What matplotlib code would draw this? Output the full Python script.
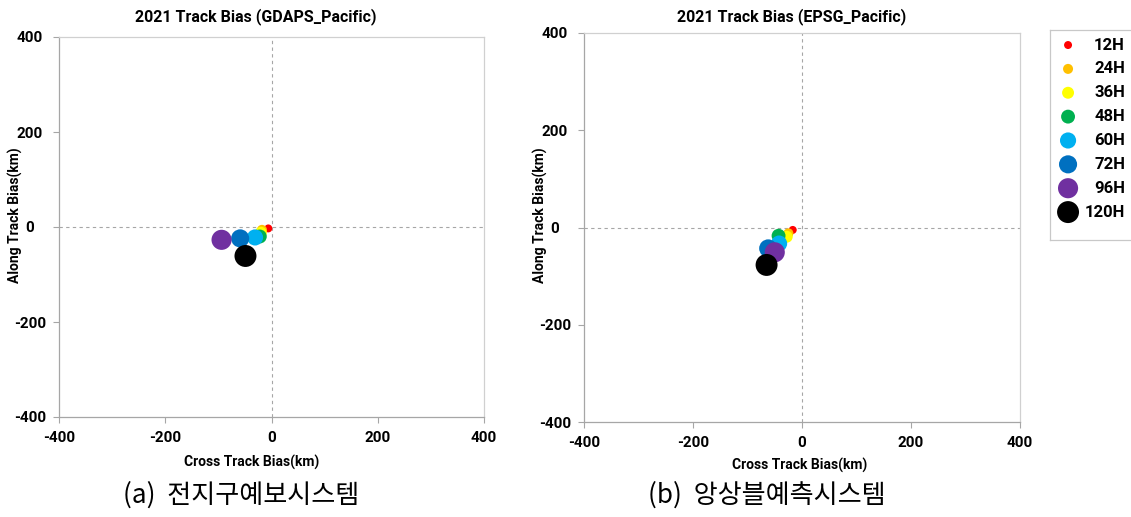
import matplotlib
matplotlib.use('Agg')
import matplotlib.pyplot as plt

plt.rcParams['axes.unicode_minus'] = False

# Forecast lead times and marker colours
leads = ['12H', '24H', '36H', '48H', '60H', '72H', '96H', '120H']
colors = ['#FF0000', '#FFC000', '#FFFF00', '#00B050', '#00B0F0', '#0070C0', '#7030A0', '#000000']
sizes = [33, 52, 74, 100, 135, 170, 210, 250]

# GDAPS (global model) track bias, km
gdaps_cross = [-6, -18, -20, -22, -31, -59, -94, -49]
gdaps_along = [-3, -6, -12, -20, -22, -24, -27, -61]

# EPSG (ensemble) track bias, km
epsg_cross = [-17, -25, -28, -43, -42, -62, -50, -65]
epsg_along = [-5, -12, -19, -17, -33, -43, -51, -77]

ticks = [-400, -200, 0, 200, 400]
font = 'Roboto'
gray = '#A6A6A6'

fig = plt.figure(figsize=(11.31, 5.17), dpi=100)
W, H = 1131, 517


def px(x, y):
    return x / W, 1 - y / H


def bias_panel(rect, cross, along):
    ax = fig.add_axes(rect)
    ax.set_xlim(-400, 400)
    ax.set_ylim(-400, 400)
    ax.axvline(0, color=gray, lw=0.8, ls=(0, (3, 3)), zorder=1)
    ax.axhline(0, color=gray, lw=0.8, ls=(0, (3, 3)), zorder=1)
    for i in range(len(leads)):
        ax.scatter(cross[i], along[i], s=sizes[i], color=colors[i],
                   edgecolors='none', zorder=3 + i)
    ax.set_xticks(ticks)
    ax.set_yticks(ticks)
    ax.tick_params(axis='x', direction='out', length=4, color=gray, pad=6,
                   labelsize=11)
    ax.tick_params(axis='y', direction='out', length=4, color=gray, pad=17,
                   labelsize=11)
    for lab in ax.get_xticklabels() + ax.get_yticklabels():
        lab.set_fontfamily(font)
        lab.set_fontweight('bold')
    for lab in ax.get_yticklabels():
        lab.set_ha('center')
    ax.spines['left'].set_color(gray)
    ax.spines['bottom'].set_color(gray)
    ax.spines['top'].set_color('#D0D0D0')
    ax.spines['right'].set_color('#D0D0D0')
    for sp in ax.spines.values():
        sp.set_linewidth(0.9)
    return ax


ax1 = bias_panel([59 / W, 1 - 417 / H, 425 / W, 380 / H], gdaps_cross, gdaps_along)
ax2 = bias_panel([584 / W, 1 - 422 / H, 436 / W, 389 / H], epsg_cross, epsg_along)

# titles and axis labels
fig.text(*px(256, 17), '2021 Track Bias (GDAPS_Pacific)', ha='center', va='center',
         fontsize=11.5, fontweight='bold', family=font)
fig.text(*px(792, 17), '2021 Track Bias (EPSG_Pacific)', ha='center', va='center',
         fontsize=11.5, fontweight='bold', family=font)
fig.text(*px(252, 462), 'Cross Track Bias(km)', ha='center', va='center',
         fontsize=10, fontweight='bold', family=font)
fig.text(*px(800, 465), 'Cross Track Bias(km)', ha='center', va='center',
         fontsize=10, fontweight='bold', family=font)
fig.text(*px(15, 215), 'Along Track Bias(km)', ha='center', va='center', rotation=90,
         fontsize=10, fontweight='bold', family=font)
fig.text(*px(540, 215), 'Along Track Bias(km)', ha='center', va='center', rotation=90,
         fontsize=10, fontweight='bold', family=font)

# Korean captions
fig.text(*px(123, 495), '(a)  전지구예보시스템', ha='left', va='center',
         fontsize=18.8, family=['Noto Sans CJK KR', 'DejaVu Sans'])
fig.text(*px(648, 495), '(b)  앙상블예측시스템', ha='left', va='center',
         fontsize=18.8, family=['Noto Sans CJK KR', 'DejaVu Sans'])

# legend box, drawn as its own small axes
lax = fig.add_axes([1050 / W, 1 - 240 / H, 95 / W, 210 / H])
lax.set_xlim(0, 1)
lax.set_ylim(8.17, -0.63)
lax.set_xticks([])
lax.set_yticks([])
for sp in lax.spines.values():
    sp.set_color('#C8C8C8')
    sp.set_linewidth(0.9)
for i, lead in enumerate(leads):
    lax.scatter(0.19, i, s=sizes[i], color=colors[i], edgecolors='none')
    lax.text(0.79, i, lead, ha='right', va='center', fontsize=12,
             fontweight='bold', family=font)

fig.savefig('out.png', dpi=100, facecolor='white')
